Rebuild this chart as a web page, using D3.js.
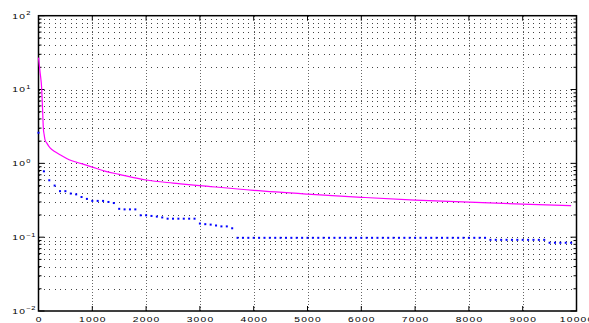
<!DOCTYPE html>
<html>
<head>
<meta charset="utf-8">
<script src="https://cdn.jsdelivr.net/npm/d3@7"></script>
<style>
  body { margin: 0; background: #fff; }
  text { font-family: "Liberation Sans", Arial, sans-serif; fill: #000; }
</style>
</head>
<body>
<svg id="chart" width="589" height="323"></svg>
<script>
// magenta curve
var magX = [0, 30, 60, 75, 90, 105, 120, 160, 215, 300, 400, 570, 800, 1000, 1250, 1500, 2000, 2500, 3000, 4000, 5000, 6000, 7000, 8000, 9000, 9900];
var magY = [27, 17, 10, 5.5, 3.0, 2.45, 2.1, 1.85, 1.62, 1.45, 1.31, 1.12, 0.99, 0.89, 0.78, 0.71, 0.595, 0.54, 0.50, 0.43, 0.383, 0.347, 0.318, 0.298, 0.281, 0.268];

// blue dots, one every 100 iterations (0 .. 9900)
var blueStep = 100;
var blueY = [
  2.6, 0.78, 0.59, 0.50, 0.42, 0.42, 0.39, 0.38, 0.35, 0.33,
  0.31, 0.31, 0.31, 0.30, 0.29, 0.242, 0.238, 0.238, 0.238, 0.198,
  0.198, 0.194, 0.19, 0.185, 0.178, 0.178, 0.178, 0.178, 0.178, 0.178,
  0.153, 0.150, 0.148, 0.144, 0.140, 0.140, 0.132, 0.098, 0.098, 0.098,
  0.098, 0.098, 0.098, 0.098, 0.098, 0.098, 0.098, 0.098, 0.098, 0.098,
  0.098, 0.098, 0.098, 0.098, 0.098, 0.098, 0.098, 0.098, 0.098, 0.098,
  0.098, 0.098, 0.098, 0.098, 0.098, 0.098, 0.098, 0.098, 0.098, 0.098,
  0.098, 0.098, 0.098, 0.098, 0.098, 0.098, 0.098, 0.098, 0.098, 0.098,
  0.098, 0.098, 0.098, 0.098, 0.092, 0.092, 0.092, 0.092, 0.092, 0.092,
  0.092, 0.092, 0.092, 0.092, 0.092, 0.084, 0.084, 0.084, 0.084, 0.084
];

var xTicks = [0, 1000, 2000, 3000, 4000, 5000, 6000, 7000, 8000, 9000, 10000];
var yDecades = [-2, -1, 0, 1, 2];

var plotL = 38.5, plotR = 576.5, plotT = 15.7, plotB = 311;
var stretch = 1.35; // the labels in the picture are wider than they are tall

var svg = d3.select('#chart');

var x = d3.scaleLinear().domain([0, 10000]).range([plotL, plotR]),
    y = d3.scaleLog().domain([0.01, 100]).range([plotB, plotT]);

// every log tick 1..9 x 10^k
var logTicks = [];
yDecades.slice(0, -1).forEach(function(k) {
  for (var m = 1; m < 10; m++) logTicks.push(m * Math.pow(10, k));
});
logTicks.push(100);

// grid
var grid = svg.append('g').attr('stroke-width', 1).attr('shape-rendering', 'crispEdges');

grid.selectAll('line.h')
  .data(logTicks.filter(function(v) { return v > 0.0100001 && v < 99.999; }))
  .enter().append('line')
    .attr('stroke', '#444')
    .attr('x1', plotL).attr('x2', plotR)
    .attr('y1', function(d) { return Math.round(y(d)) + 0.5; })
    .attr('y2', function(d) { return Math.round(y(d)) + 0.5; })
    .attr('stroke-dasharray', '1,4.38');

grid.selectAll('line.v')
  .data(xTicks.slice(1, -1))
  .enter().append('line')
    .attr('stroke', '#666')
    .attr('y1', plotT).attr('y2', plotB)
    .attr('x1', function(d) { return Math.round(x(d)) + 0.5; })
    .attr('x2', function(d) { return Math.round(x(d)) + 0.5; })
    .attr('stroke-dasharray', '1,2');

// ticks (inward, all four sides)
var ticks = svg.append('g').attr('stroke', '#000').attr('stroke-width', 1);

logTicks.forEach(function(v) {
  var major = Math.abs(Math.log10(v) - Math.round(Math.log10(v))) < 1e-9,
      len = major ? 6 : 3,
      yy = y(v);
  ticks.append('line').attr('x1', plotL).attr('x2', plotL + len).attr('y1', yy).attr('y2', yy);
  ticks.append('line').attr('x1', plotR - len).attr('x2', plotR).attr('y1', yy).attr('y2', yy);
});

xTicks.forEach(function(v) {
  var xx = x(v);
  ticks.append('line').attr('x1', xx).attr('x2', xx).attr('y1', plotB).attr('y2', plotB - 5);
  ticks.append('line').attr('x1', xx).attr('x2', xx).attr('y1', plotT).attr('y2', plotT + 5);
});

// frame
svg.append('rect')
  .attr('x', plotL).attr('y', plotT)
  .attr('width', plotR - plotL).attr('height', plotB - plotT)
  .attr('fill', 'none')
  .attr('stroke', '#000')
  .attr('stroke-width', 1.5);

// series, on top of the frame
var magLine = d3.line()
  .x(function(d, i) { return x(magX[i]); })
  .y(function(d) { return y(d); })
  .curve(d3.curveMonotoneX);

svg.append('path')
  .attr('d', magLine(magY))
  .attr('fill', 'none')
  .attr('stroke', '#ff00ff')
  .attr('stroke-width', 1.2);

svg.append('g').selectAll('rect')
  .data(blueY)
  .enter().append('rect')
    .attr('x', function(d, i) { return x(i * blueStep) - 1; })
    .attr('y', function(d) { return y(d) - 1; })
    .attr('width', 2)
    .attr('height', 2)
    .attr('fill', '#0000ff');

// x labels
svg.append('g').selectAll('text')
  .data(xTicks)
  .enter().append('text')
    .attr('transform', function(d) { return 'translate(' + (x(d) + 0.6) + ',321.5) scale(' + stretch + ',1)'; })
    .attr('text-anchor', 'middle')
    .attr('font-size', '7.6px')
    .attr('letter-spacing', '0.9px')
    .text(function(d) { return d; });

// y labels: 10^k
var yl = svg.append('g').selectAll('text')
  .data(yDecades)
  .enter().append('text')
    .attr('transform', function(d) { return 'translate(12.3,' + (y(Math.pow(10, d)) + 2.8) + ') scale(' + stretch + ',1)'; })
    .attr('font-size', '7.6px');

yl.append('tspan')
  .attr('letter-spacing', '0.9px')
  .text('10');

yl.append('tspan')
  .attr('font-size', '5.5px')
  .attr('dy', -3.4)
  .attr('letter-spacing', '0.5px')
  .text(function(d) { return d < 0 ? '\u2212' + (-d) : d; });
</script>
</body>
</html>
